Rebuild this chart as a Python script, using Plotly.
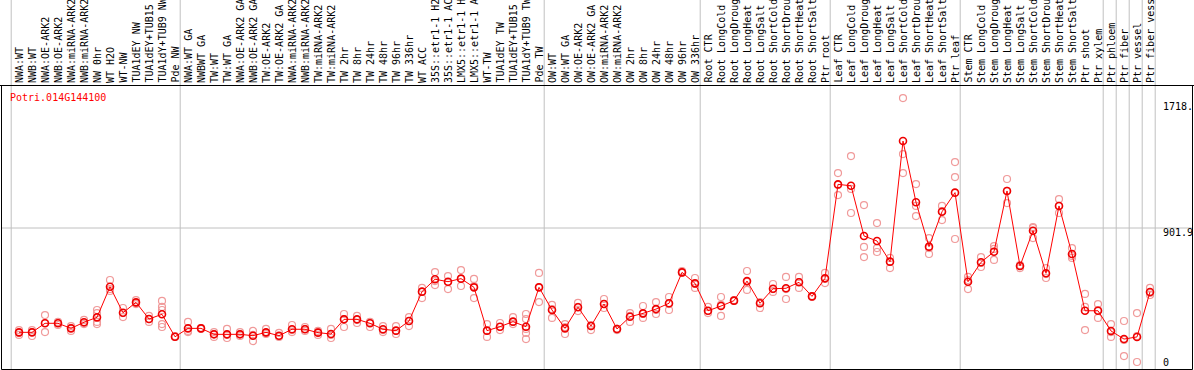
import plotly.graph_objects as go

gene = "Potri.014G144100"

categories = [
    "NWA:WT", "NWB:WT", "NWA:OE-ARK2", "NWB:OE-ARK2", "NWA:miRNA-ARK2", "NWB:miRNA-ARK2",
    "NW 0hr", "WT H2O", "WT-NW", "TUA1dEY NW", "TUA1dEY+TUB15 NW", "TUA1dY+TUB9 NW", "Pde NW",
    "NWA:WT GA", "NWBWT GA", "TW:WT", "TW:WT GA", "NWA:OE-ARK2 GA", "NWB:OE-ARK2 GA",
    "TW:OE-ARK2", "TW:OE-ARK2 GA", "NWA:miRNA-ARK2", "NWB:miRNA-ARK2", "TW:miRNA-ARK2",
    "TW:miRNA-ARK2", "TW 2hr", "TW 8hr", "TW 24hr", "TW 48hr", "TW 96hr", "TW 336hr",
    "WT ACC", "35S::etr1-1 H2O", "35S::etr1-1 ACC", "LMX5::etr1-1 H2O", "LMX5::etr1-1 ACC",
    "WT-TW", "TUA1dEY TW", "TUA1dEY+TUB15 TW", "TUA1dY+TUB9 TW", "Pde TW",
    "OW:WT", "OW:WT GA", "OW:OE-ARK2", "OW:OE-ARK2 GA", "OW:miRNA-ARK2", "OW:miRNA-ARK2",
    "OW 2hr", "OW 8hr", "OW 24hr", "OW 48hr", "OW 96hr", "OW 336hr",
    "Root CTR", "Root LongCold", "Root LongDrought", "Root LongHeat", "Root LongSalt",
    "Root ShortCold", "Root ShortDrought", "Root ShortHeat", "Root ShortSalt", "Ptr root",
    "Leaf CTR", "Leaf LongCold", "Leaf LongDrought", "Leaf LongHeat", "Leaf LongSalt",
    "Leaf ShortCold", "Leaf ShortDrought", "Leaf ShortHeat", "Leaf ShortSalt", "Ptr leaf",
    "Stem CTR", "Stem LongCold", "Stem LongDrought", "Stem LongHeat", "Stem LongSalt",
    "Stem ShortCold", "Stem ShortDrought", "Stem ShortHeat", "Stem ShortSalt", "Ptr shoot",
    "Ptr xylem", "Ptr phloem", "Ptr fiber", "Ptr vessel", "Ptr fiber vessel",
]

# sizes of the boxed groups (separators drawn between them)
group_sizes = [13, 28, 12, 10, 10, 11, 1, 1, 1, 1]

mean_values = [
    220, 220, 279, 279, 246, 286, 318, 518, 348, 416, 307, 338, 191,
    246, 246, 207, 207, 207, 198, 220, 198, 240, 240, 218, 209, 305, 305, 279, 240, 231,
    294, 486, 567, 551, 571, 514, 231, 257, 290, 257, 514,
    366, 246, 384, 261, 405, 242, 322, 344, 372, 410, 612, 540,
    361, 392, 427, 555, 410, 505, 508, 547, 455, 573,
    1187, 1178, 850, 817, 682, 1470, 1070, 780, 1008, 1133,
    551, 678, 747, 1144, 654, 884, 606, 1046, 732, 361,
    361, 229, 176, 190, 484,
]

replicates = [
    [235, 203, 216], [235, 196, 222], [333, 222, 281], [288, 268, 281], [261, 229, 248],
    [301, 274, 281], [366, 346, 288, 274], [562, 503, 490], [379, 346, 320], [431, 405, 412],
    [327, 288, 307], [425, 386, 366, 274, 255], [196, 190, 190],
    [288, 222, 229], [248, 242, 248], [222, 190, 209], [242, 183, 203], [222, 196, 209],
    [229, 163, 203], [242, 216, 209], [216, 190, 196], [268, 222, 235], [255, 229, 242],
    [229, 203, 222], [242, 183, 203], [340, 255, 307], [327, 281, 301], [288, 255, 281],
    [261, 222, 235], [261, 209, 229], [320, 261, 294], [510, 444, 484], [614, 529, 555],
    [588, 503, 549], [627, 523, 569], [569, 444, 523], [274, 190, 229], [281, 235, 255],
    [320, 274, 288], [340, 307, 242, 216, 176], [608, 418, 516],
    [399, 314, 372], [274, 209, 255], [412, 359, 386], [268, 235, 261], [438, 405, 379],
    [242, 242, 235], [346, 288, 327], [392, 314, 340], [418, 340, 366], [451, 366, 405],
    [621, 608, 614], [575, 510, 536],
    [386, 346, 359], [451, 327, 399], [431, 425, 425], [621, 497, 549], [418, 379, 412],
    [536, 484, 503], [582, 438, 503], [582, 510, 549], [457, 451, 457], [608, 542, 569],
    [1261, 1117, 1183], [1372, 1157, 1000], [1052, 778, 712], [934, 771, 745], [706, 640, 680],
    [1751, 1385, 1261], [1189, 1046, 980], [836, 732, 771], [1046, 954, 1013], [1333, 1235, 830],
    [582, 503, 562], [712, 647, 673], [784, 693, 765], [1222, 1065, 1144], [660, 640, 654],
    [908, 836, 902], [640, 575, 601], [1091, 1000, 1046], [771, 706, 719], [471, 386, 235],
    [405, 314, 366], [274, 190, 222], [294, 65, 170], [346, 26, 196], [510, 464, 477],
]

y_tick_values = [1718, 901.9, 0]
y_tick_labels = ["1718.", "901.9", "0"]

# ---------------------------------------------------------------- layout
W, H = 1194, 370
X0, DX = 19.0, 13.0          # pixel of first category, pixel step
Y0_PX, SCALE = 366.0, 138.0 / 901.9   # pixel row of value 0, px per unit

x_range = [(0 - X0) / DX, (W - X0) / DX]
y_range = [-(H - Y0_PX) / SCALE, Y0_PX / SCALE]

def px_x(px):
    return px / W

def px_y(py):
    return 1 - py / H

MONO = "DejaVu Sans Mono"
GRID = "#c0c0c0"

idx = list(range(len(categories)))
rep_x, rep_y = [], []
for i, reps in enumerate(replicates):
    for v in reps:
        rep_x.append(i)
        rep_y.append(v)

fig = go.Figure()
fig.add_trace(go.Scatter(
    x=rep_x, y=rep_y, mode="markers",
    marker=dict(symbol="circle-open", size=7, color="#f09a9a", line=dict(width=1.2)),
    hoverinfo="skip", cliponaxis=False,
))
fig.add_trace(go.Scatter(
    x=idx, y=mean_values, mode="lines+markers",
    line=dict(color="#ff0000", width=1),
    marker=dict(symbol="circle-open", size=7, color="#ee0000", line=dict(width=1.6)),
    hoverinfo="skip", cliponaxis=False,
))

shapes = []
# vertical separators
b = -0.5
bounds = [b]
for g in group_sizes:
    b += g
    bounds.append(b)
for bd in bounds:
    shapes.append(dict(type="line", xref="x", yref="paper", x0=bd - 0.1, x1=bd - 0.1,
                       y0=px_y(369), y1=1, line=dict(color=GRID, width=1), layer="below"))
# horizontal grid at middle tick
shapes.append(dict(type="line", xref="paper", yref="y", x0=px_x(1.5), x1=px_x(1192.5),
                   y0=y_tick_values[1], y1=y_tick_values[1],
                   line=dict(color=GRID, width=1), layer="below"))
# frame
shapes.append(dict(type="line", xref="paper", yref="paper", x0=0, x1=1,
                   y0=px_y(85.5), y1=px_y(85.5), line=dict(color="black", width=1)))
shapes.append(dict(type="rect", xref="paper", yref="paper", x0=px_x(1.5), x1=px_x(1192.5),
                   y0=px_y(369.5), y1=px_y(85.5), line=dict(color="black", width=1)))

annotations = []
for i, lab in enumerate(categories):
    annotations.append(dict(
        x=i, xref="x", y=px_y(84), yref="paper", text=lab, showarrow=False,
        textangle=-90, xanchor="center", yanchor="bottom", borderpad=0,
        font=dict(family=MONO, size=10, color="black"),
    ))
annotations.append(dict(
    x=px_x(9), xref="paper", y=px_y(97), yref="paper", text=gene, showarrow=False,
    xanchor="left", yanchor="middle", borderpad=0,
    font=dict(family=MONO, size=10, color="#ff0000"),
))
tick_rows = [107, 232.5, 362.5]
for lab, row in zip(y_tick_labels, tick_rows):
    annotations.append(dict(
        x=px_x(1162), xref="paper", y=px_y(row), yref="paper", text=lab, showarrow=False,
        xanchor="left", yanchor="middle", borderpad=0,
        font=dict(family=MONO, size=10, color="black"),
    ))

fig.update_layout(
    width=W, height=H, margin=dict(l=0, r=0, t=0, b=0),
    paper_bgcolor="white", plot_bgcolor="white", showlegend=False,
    xaxis=dict(range=x_range, visible=False, fixedrange=True),
    yaxis=dict(range=y_range, visible=False, fixedrange=True),
    shapes=shapes, annotations=annotations, hovermode=False,
)

fig.write_html(
    "out.html",
    config={"displayModeBar": False},
    post_script="document.body.style.margin='0';document.body.style.overflow='hidden';",
)
